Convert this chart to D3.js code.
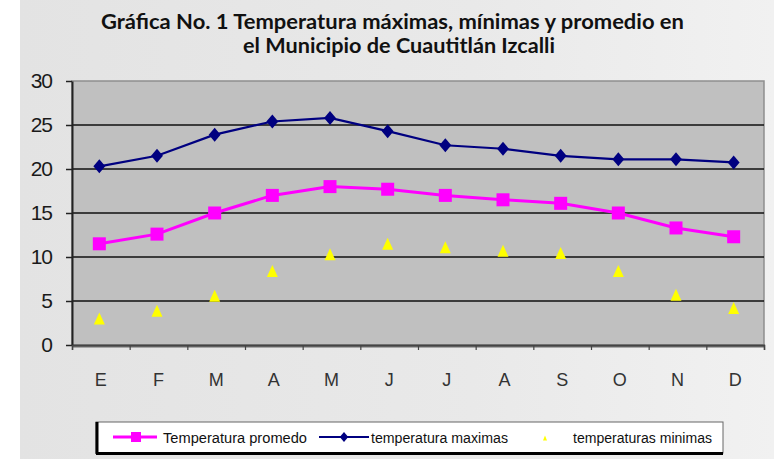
<!DOCTYPE html>
<html>
<head>
<meta charset="utf-8">
<script src="https://cdn.jsdelivr.net/npm/d3@7/dist/d3.min.js"></script>
<style>
  html, body { margin: 0; padding: 0; background: #ffffff; }
  svg { display: block; }
</style>
</head>
<body>
<svg id="chart" width="774" height="459"></svg>
<script>
const months = ["E","F","M","A","M","J","J","A","S","O","N","D"];
const promedio = [11.5, 12.6, 15.0, 17.0, 18.0, 17.7, 17.0, 16.5, 16.1, 15.0, 13.3, 12.3];
const maximas = [20.3, 21.5, 23.9, 25.4, 25.8, 24.3, 22.7, 22.3, 21.5, 21.1, 21.1, 20.75];
const minimas = [3.0, 3.9, 5.6, 8.4, 10.3, 11.5, 11.1, 10.7, 10.45, 8.4, 5.7, 4.2];
const yTicks = [0, 5, 10, 15, 20, 25, 30];
const titleLines = ["Gráfica No. 1  Temperatura máximas, mínimas y promedio  en", "el Municipio de Cuautitlán Izcalli"];
const legendLabels = ["Temperatura promedo", "temperatura maximas", "temperaturas minimas"];

const svg = d3.select("#chart");
const defs = svg.append("defs");
const grad = defs.append("linearGradient").attr("id", "bg").attr("x1", "0").attr("x2", "1").attr("y1", "0").attr("y2", "0");
grad.append("stop").attr("offset", "0").attr("stop-color", "#e3e3e3");
grad.append("stop").attr("offset", "0.6").attr("stop-color", "#e9e9e9");
grad.append("stop").attr("offset", "1").attr("stop-color", "#f1f1f1");

svg.append("rect").attr("x", 0).attr("y", 0).attr("width", 774).attr("height", 459).attr("fill", "#ffffff");
svg.append("rect").attr("x", 20).attr("y", 0).attr("width", 754).attr("height", 459).attr("fill", "url(#bg)");

// Title
const title = svg.append("g").attr("font-family", "Lato, 'DejaVu Sans', sans-serif").attr("font-weight", "bold").attr("fill", "#111");
title.append("text").attr("x", 101).attr("y", 29).attr("font-size", 21)
  .attr("textLength", 583).attr("lengthAdjust", "spacingAndGlyphs").text(titleLines[0]);
title.append("text").attr("x", 243).attr("y", 53).attr("font-size", 21)
  .attr("textLength", 312).attr("lengthAdjust", "spacingAndGlyphs").text(titleLines[1]);

const L = 72, R = 764, T = 81, B = 345;
const x = d3.scaleBand().domain(d3.range(months.length)).range([L, R]);
const xEdge = d3.scaleLinear().domain([0, months.length]).range([L, R]);
const y = d3.scaleLinear().domain([0, 30]).range([B, T]);
const cx = i => x(i) + x.bandwidth() / 2 - 1.5;

// Plot area
svg.append("rect").attr("x", L).attr("y", T).attr("width", R - L).attr("height", B - T)
  .attr("fill", "#c0c0c0").attr("stroke", "#8e8e8e").attr("stroke-width", 1.5);
svg.append("line").attr("x1", L).attr("x2", R + 1).attr("y1", B + 1).attr("y2", B + 1)
  .attr("stroke", "#6a6a6a").attr("stroke-width", 3);

// Gridlines
svg.append("g").selectAll("line").data(yTicks.filter(v => v > 0 && v < 30)).join("line")
  .attr("x1", L).attr("x2", R).attr("y1", d => y(d)).attr("y2", d => y(d))
  .attr("stroke", "#111").attr("stroke-width", 1.4);

// Y axis
const yAxis = svg.append("g").attr("transform", `translate(${L},0)`)
  .call(d3.axisLeft(y).tickValues(yTicks).tickSize(6).tickPadding(14).tickSizeOuter(0));
yAxis.select(".domain").attr("stroke", "#222").attr("stroke-width", 2);
yAxis.selectAll(".tick line").attr("stroke", "#222").attr("stroke-width", 1.5);
yAxis.selectAll("text").attr("font-family", "'Liberation Sans', Arial, sans-serif").attr("font-size", 21)
  .attr("letter-spacing", -1).attr("fill", "#1a1a1a");

// X axis tick marks at band edges
const xTicks = svg.append("g").attr("transform", `translate(0,${B})`)
  .call(d3.axisBottom(xEdge).tickValues(d3.range(months.length + 1)).tickSize(5).tickFormat(""));
xTicks.select(".domain").attr("stroke", "#444").attr("stroke-width", 1.5);
xTicks.selectAll(".tick line").attr("stroke", "#444").attr("stroke-width", 1.2);

// X labels
const xLab = svg.append("g").attr("transform", `translate(0,${B})`)
  .call(d3.axisBottom(x).tickSize(0).tickPadding(28).tickFormat(i => months[i]));
xLab.select(".domain").remove();
xLab.selectAll("text").attr("font-family", "'Liberation Sans', Arial, sans-serif").attr("font-size", 18)
  .attr("fill", "#333");

// Lines
const line = d3.line().x((d, i) => cx(i)).y(d => y(d));
svg.append("path").datum(maximas).attr("d", line).attr("fill", "none").attr("stroke", "#000080").attr("stroke-width", 2.2);
svg.append("path").datum(promedio).attr("d", line).attr("fill", "none").attr("stroke", "#ff00ff").attr("stroke-width", 3);

// Markers
const diamond = s => `M0,${-s}L${s * 0.85},0L0,${s}L${-s * 0.85},0Z`;
svg.append("g").selectAll("path").data(maximas).join("path")
  .attr("transform", (d, i) => `translate(${cx(i)},${y(d)})`)
  .attr("d", diamond(7)).attr("fill", "#000080");
svg.append("g").selectAll("rect").data(promedio).join("rect")
  .attr("x", (d, i) => cx(i) - 6.5).attr("y", d => y(d) - 6.5).attr("width", 13).attr("height", 13)
  .attr("fill", "#ff00ff");
const tri = (w, h) => `M0,${-h / 2}L${w / 2},${h / 2}L${-w / 2},${h / 2}Z`;
svg.append("g").selectAll("path").data(minimas).join("path")
  .attr("transform", (d, i) => `translate(${cx(i)},${y(d)})`)
  .attr("d", tri(11, 12)).attr("fill", "#ffff00");

// Legend
const lg = svg.append("g");
lg.append("rect").attr("x", 96).attr("y", 422).attr("width", 627).attr("height", 31)
  .attr("fill", "#ffffff").attr("stroke", "#666").attr("stroke-width", 1);
lg.append("line").attr("x1", 97).attr("x2", 97).attr("y1", 422).attr("y2", 454).attr("stroke", "#000").attr("stroke-width", 3);
lg.append("line").attr("x1", 96).attr("x2", 723).attr("y1", 453.5).attr("y2", 453.5).attr("stroke", "#000").attr("stroke-width", 3);
const ly = 437;
lg.append("line").attr("x1", 113).attr("x2", 157).attr("y1", ly).attr("y2", ly).attr("stroke", "#ff00ff").attr("stroke-width", 3);
lg.append("rect").attr("x", 131).attr("y", ly - 5).attr("width", 10).attr("height", 10).attr("fill", "#ff00ff");
lg.append("line").attr("x1", 319).attr("x2", 369).attr("y1", ly).attr("y2", ly).attr("stroke", "#000080").attr("stroke-width", 2.2);
lg.append("path").attr("transform", `translate(344,${ly})`).attr("d", diamond(5)).attr("fill", "#000080");
lg.append("path").attr("transform", `translate(545,${ly + 1})`).attr("d", tri(4, 5)).attr("fill", "#ffff00");
const legX = [163, 371, 573];
const legW = [144, 137, 139];
lg.selectAll("text.leg").data(legendLabels).join("text").attr("class", "leg")
  .attr("x", (d, i) => legX[i]).attr("y", ly + 5.5)
  .attr("font-family", "'Liberation Sans', Arial, sans-serif").attr("font-size", 15.5).attr("fill", "#111")
  .attr("textLength", (d, i) => legW[i]).attr("lengthAdjust", "spacingAndGlyphs")
  .text(d => d);
</script>
</body>
</html>
